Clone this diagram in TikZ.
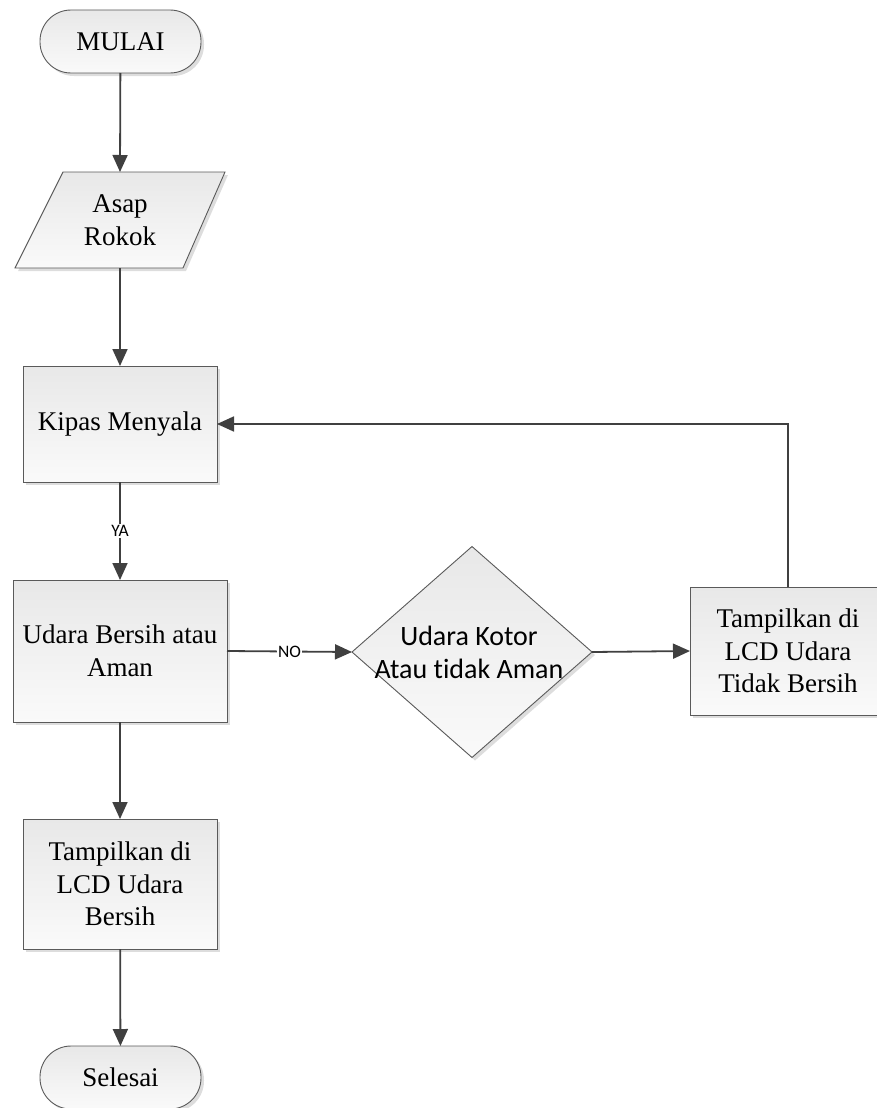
\documentclass[tikz,border=0pt]{standalone}
\usepackage{fontspec}
\setmainfont{Liberation Serif}
\newfontfamily\calib[Ligatures=NoCommon]{Carlito}
\usetikzlibrary{shapes.geometric,shadows,arrows.meta}
\definecolor{linec}{HTML}{404040}
\definecolor{borderc}{HTML}{5A5A5A}
\begin{document}
\begin{tikzpicture}[x=1pt,y=-1pt,
  every node/.style={inner sep=0pt,outer sep=0pt},
  shade box/.style={draw=borderc, line width=0.9pt, top color=black!9, bottom color=black!2,
     drop shadow={shadow xshift=3pt, shadow yshift=-3pt, fill=black!22, opacity=0.6}},
  serif txt/.style={font=\fontsize{27}{32.5}\selectfont, align=center},
  procbox/.style={shade box, rectangle, serif txt},
  termbox/.style={shade box, rectangle, rounded corners=31pt, serif txt},
  conn/.style={draw=linec, line width=1.8pt, -{Triangle[length=17pt,width=15pt]}},
  lbl/.style={fill=white, font=\calib\fontsize{17.5}{19}\selectfont, text=black, inner sep=1pt}
]
\useasboundingbox (0,0) rectangle (877,1108);

% terminals
\node[termbox, minimum width=161pt, minimum height=63pt] (mulai) at (120.5,41.5) {MULAI};
\node[termbox, minimum width=161pt, minimum height=63pt] (selesai) at (120.5,1077.5) {Selesai};

% parallelogram (input)
\node[minimum width=120pt, minimum height=96pt] (asap) at (120,220) {};
\fill[black!22, opacity=0.6] (18,271) -- (186,271) -- (228,175) -- (66,175) -- cycle;
\draw[borderc, line width=0.9pt, top color=black!9, bottom color=black!2]
  (15,268) -- (183,268) -- (225,172) -- (63,172) -- cycle;
\node[serif txt] at (asap) {Asap\\Rokok};

% process boxes
\node[procbox, minimum width=194pt, minimum height=116pt] (kipas) at (120,424) {Kipas Menyala};
\node[procbox, minimum width=214pt, minimum height=142pt] (udara) at (120,651) {Udara Bersih atau\\Aman};
\node[procbox, minimum width=194pt, minimum height=130pt] (lcdok) at (120,884) {Tampilkan di\\LCD Udara\\Bersih};
\node[procbox, minimum width=196pt, minimum height=128pt] (lcdbad) at (788,651) {Tampilkan di\\LCD Udara\\Tidak Bersih};

% decision
\node[shade box, diamond, minimum width=240pt, minimum height=211pt] (kotor) at (472,652) {};
\node[font=\calib\fontsize{28}{33}\selectfont, align=center] (kotortxt) at (469,652) {Udara Kotor\\Atau tidak Aman};

% connectors
\draw[conn] (mulai) -- (asap.center |- 0,172);
\draw[conn] (asap.center |- 0,268) -- (kipas);
\draw[conn] (kipas) -- node[lbl] {YA} (udara);
\draw[conn] (udara.east) -- node[lbl] {NO} (kotor.west);
\draw[conn] (kotor.east) -- (lcdbad.west);
\draw[conn] (lcdbad.north) |- (kipas.east);
\draw[conn] (udara) -- (lcdok);
\draw[conn] (lcdok) -- (selesai);
\end{tikzpicture}
\end{document}
